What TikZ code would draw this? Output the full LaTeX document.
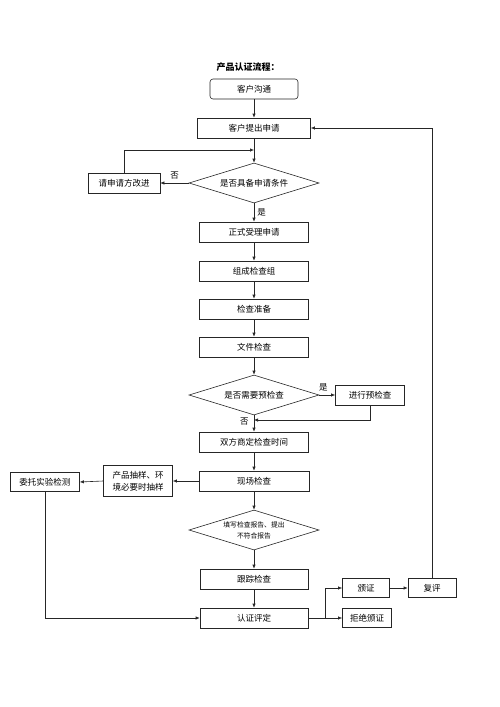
\documentclass[tikz,border=0pt]{standalone}
\usepackage{fontspec}
\setmainfont{Noto Sans CJK SC}
\usetikzlibrary{shapes.geometric,arrows.meta}

% Estilos del diagrama de flujo
\tikzset{
  caja/.style={draw=black!85, line width=0.6pt, minimum height=20pt, inner sep=1pt, font=\fontsize{8.5}{10}\selectfont},
  rombo/.style={draw=black!85, line width=0.6pt, diamond, aspect=3.25, minimum width=130pt, minimum height=40pt, inner sep=0pt, font=\fontsize{8.5}{10}\selectfont},
  flecha/.style={draw=black!85, line width=0.6pt, -{Latex[length=4pt,width=3.4pt]}},
  linea/.style={draw=black!85, line width=0.6pt},
  etiqueta/.style={font=\fontsize{8.5}{10}\selectfont, inner sep=1pt}
}

\begin{document}
\begin{tikzpicture}[x=1pt, y=-1pt]
% Fijamos el tamano del dibujo igual que la imagen original (en pixeles).
\useasboundingbox (0,0) rectangle (500,707);

% Titulo
\node[font=\fontsize{9}{10}\selectfont\bfseries] (titulo) at (248,67) {产品认证流程：};

% Columna principal
\node[caja, rounded corners=3pt, minimum width=88pt] (comunica) at (254,89) {客户沟通};
\node[caja, minimum width=113pt] (solicita) at (254,128) {客户提出申请};
\node[rombo] (condicion) at (254,183) {是否具备申请条件};
\node[caja, minimum width=72pt] (mejora) at (124,183) {请申请方改进};
\node[caja, minimum width=109pt] (acepta) at (254,232) {正式受理申请};
\node[caja, minimum width=109pt] (grupo) at (254,271) {组成检查组};
\node[caja, minimum width=109pt] (prepara) at (254,309) {检查准备};
\node[caja, minimum width=109pt] (documento) at (254,347) {文件检查};
\node[rombo] (previa) at (254,395) {是否需要预检查};
\node[caja, minimum width=69pt] (prechequeo) at (370,395) {进行预检查};
\node[caja, minimum width=109pt] (fecha) at (254,442) {双方商定检查时间};
\node[caja, minimum width=110pt] (sitio) at (254,481) {现场检查};
\node[caja, minimum width=69pt, minimum height=31pt, align=center, font=\fontsize{8.5}{12}\selectfont] (muestra) at (138,481) {产品抽样、环\\境必要时抽样};
\node[caja, minimum width=69pt, minimum height=19pt] (ensayo) at (45,482) {委托实验检测};
\node[rombo, font=\fontsize{6.8}{11}\selectfont, align=center] (informe) at (254,530) {填写检查报告、提出\\不符合报告};
\node[caja, minimum width=108pt] (seguimiento) at (254,579) {跟踪检查};
\node[caja, minimum width=108pt] (evalua) at (254,618) {认证评定};

% Salidas de la evaluacion
\node[caja, minimum width=47pt, minimum height=19pt] (certifica) at (366,588) {颁证};
\node[caja, minimum width=49pt, minimum height=19pt] (rechaza) at (367,618) {拒绝颁证};
\node[caja, minimum width=48pt, minimum height=19pt] (revision) at (432,588) {复评};

% Puntos auxiliares donde se juntan las lineas
\coordinate (unir1) at (254,150);
\coordinate (unir2) at (254,420);
\coordinate (rama) at (325,618);

% Conectores
\draw[flecha] (comunica) -- (solicita);
\draw[flecha] (solicita) -- (condicion);
\draw[flecha] (condicion.west) -- node[etiqueta, above=3pt] {否} (mejora.east);
\draw[flecha] (mejora.north) |- (unir1);
\draw[flecha] (condicion.south) -- node[etiqueta, right=2pt] {是} (acepta.north);
\draw[flecha] (acepta) -- (grupo);
\draw[flecha] (grupo) -- (prepara);
\draw[flecha] (prepara) -- (documento);
\draw[flecha] (documento) -- (previa);
\draw[flecha] (previa.east) -- node[etiqueta, above=3pt, xshift=-4pt] {是} (prechequeo.west);
\draw[flecha] (prechequeo.south) |- (unir2);
\draw[flecha] (previa.south) -- node[etiqueta, left=4pt, pos=0.4] {否} (fecha.north);
\draw[flecha] (fecha) -- (sitio);
\draw[flecha] (sitio.west) -- (muestra.east);
\draw[flecha] (muestra.west) -- (ensayo.east);
\draw[flecha] (sitio) -- (informe);
\draw[flecha] (informe) -- (seguimiento);
\draw[flecha] (seguimiento) -- (evalua);
\draw[flecha] (ensayo.south) |- (evalua.west);
\draw[linea] (evalua.east) -- (rama);
\draw[flecha] (rama) |- (certifica.west);
\draw[flecha] (rama) -- (rechaza.west);
\draw[flecha] (certifica) -- (revision);
\draw[flecha] (revision.north) |- (solicita.east);
\end{tikzpicture}
\end{document}
